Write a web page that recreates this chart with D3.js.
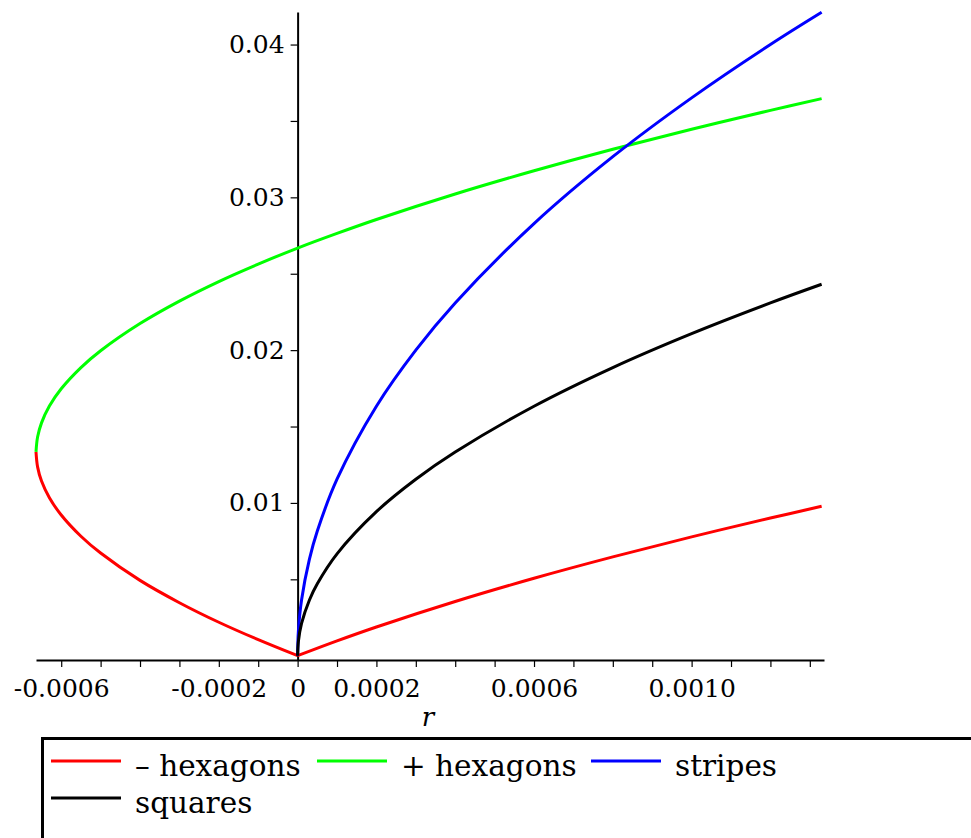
<!DOCTYPE html>
<html>
<head>
<meta charset="utf-8">
<script src="https://cdn.jsdelivr.net/npm/d3@7"></script>
<style>
  body { margin: 0; background: #fff; }
  svg { display: block; }
  .tick-label { font-family: "DejaVu Serif", serif; font-size: 25px; fill: #000; }
  .legend-text { font-family: "DejaVu Serif", serif; font-size: 29.5px; fill: #000; }
</style>
</head>
<body>
<div id="chart"></div>
<script>
// data: amplitude vs r
var hexMinusR = [0.00133, 0.0012, 0.001, 0.0008, 0.0006, 0.0004, 0.0002, 0.0001, 0,
    -0.0001, -0.0002, -0.0003, -0.0004, -0.0005, -0.00055, -0.0006, -0.00063, -0.00065, -0.00066, -0.000664];
var hexMinusA = [0.00978, 0.00901, 0.00778, 0.00647, 0.00507, 0.00355, 0.00188, 0.00097, 0,
    0.00105, 0.00219, 0.00347, 0.00493, 0.00672, 0.00782, 0.00921, 0.01034, 0.01143, 0.01236, 0.01334];

var hexPlusR = [-0.000664, -0.00066, -0.00065, -0.00063, -0.0006, -0.00055, -0.0005, -0.0004, -0.0003,
    -0.0002, -0.0001, 0, 0.0001, 0.0002, 0.0004, 0.0006, 0.0008, 0.001, 0.0012, 0.00133];
var hexPlusA = [0.01334, 0.01431, 0.01524, 0.01634, 0.01747, 0.01886, 0.01996, 0.02174, 0.02321,
    0.02449, 0.02563, 0.02668, 0.02764, 0.02855, 0.03022, 0.03174, 0.03315, 0.03446, 0.03569, 0.03646];

var stripesR = [0, 0.000002, 0.00001, 0.00003, 0.00005, 0.0001, 0.0002, 0.0003, 0.0004, 0.0006, 0.0008, 0.001, 0.0012, 0.00133];
var stripesA = [0, 0.00163, 0.00365, 0.00632, 0.00816, 0.01155, 0.01633, 0.02, 0.02309, 0.02828, 0.03266, 0.03651, 0.04, 0.04211];

var squaresR = [0, 0.000002, 0.00001, 0.00003, 0.00005, 0.0001, 0.0002, 0.0003, 0.0004, 0.0006, 0.0008, 0.001, 0.0012, 0.00133];
var squaresA = [0, 0.000943, 0.00211, 0.00365, 0.00471, 0.00667, 0.00943, 0.01155, 0.01333, 0.01633, 0.01886, 0.02108, 0.02309, 0.02431];

var seriesNames = ["\u2013 hexagons", "+ hexagons", "stripes", "squares"];
var seriesColors = ["#ff0000", "#00ff00", "#0000ff", "#000000"];

var xTicks = [-0.0006, -0.0005, -0.0004, -0.0003, -0.0002, -0.0001, 0, 0.0001, 0.0002, 0.0003,
    0.0004, 0.0005, 0.0006, 0.0007, 0.0008, 0.0009, 0.001, 0.0011, 0.0012, 0.0013];
var xLabels = {"-0.0006": "-0.0006", "-0.0002": "-0.0002", "0": "0", "0.0002": "0.0002", "0.0006": "0.0006", "0.001": "0.0010"};
var yTicks = [0.005, 0.01, 0.015, 0.02, 0.025, 0.03, 0.035, 0.04];
var yLabels = {"0.01": "0.01", "0.02": "0.02", "0.03": "0.03", "0.04": "0.04"};

var width = 971, height = 838;

var svg = d3.select("#chart").append("svg")
    .attr("width", width)
    .attr("height", height);

var x = d3.scaleLinear().domain([-0.000664, 0.001336]).range([36, 824]);
var y = d3.scaleLinear().domain([-0.00028, 0.04213]).range([660, 12]);

// x axis along the bottom of the plot
var xAxis = d3.axisBottom(x)
    .tickValues(xTicks)
    .tickSizeInner(7)
    .tickSizeOuter(0)
    .tickPadding(6)
    .tickFormat(function(d){ var k = String(+d.toFixed(4)); return xLabels[k] || ""; });

var gx = svg.append("g")
    .attr("transform", "translate(0," + y.range()[0] + ")")
    .call(xAxis);
gx.select(".domain").attr("stroke-width", 2);
gx.selectAll(".tick line").attr("stroke-width", 1.2);
gx.selectAll(".tick text").attr("class", "tick-label").attr("dy", "0.95em");

// y axis through r = 0
var yAxis = d3.axisLeft(y)
    .tickValues(yTicks)
    .tickSizeInner(7)
    .tickSizeOuter(0)
    .tickPadding(6)
    .tickFormat(function(d){ var k = String(+d.toFixed(3)); return yLabels[k] || ""; });

var gy = svg.append("g")
    .attr("transform", "translate(" + x(0) + ",0)")
    .call(yAxis);
gy.select(".domain").attr("stroke-width", 2);
gy.selectAll(".tick line").attr("stroke-width", 1.2);
gy.selectAll(".tick text").attr("class", "tick-label");

svg.append("text")
    .attr("x", 428)
    .attr("y", 726)
    .attr("text-anchor", "middle")
    .style("font-family", "'DejaVu Serif', serif")
    .style("font-style", "italic")
    .style("font-size", "26px")
    .text("r");

var line = d3.line()
    .x(function(d){ return x(d[0]); })
    .y(function(d){ return y(d[1]); })
    .curve(d3.curveCatmullRom.alpha(0.5));

var seriesR = [hexMinusR, hexPlusR, stripesR, squaresR];
var seriesA = [hexMinusA, hexPlusA, stripesA, squaresA];

function drawPath(pts, color) {
    svg.append("path")
        .attr("d", line(pts))
        .attr("fill", "none")
        .attr("stroke", color)
        .attr("stroke-width", 3)
        .attr("stroke-linejoin", "round");
}

seriesR.forEach(function(rs, i){
    var pts = rs.map(function(r, j){ return [r, seriesA[i][j]]; });
    if (i === 0) {
        // the lower hexagon branch has a corner at the origin
        drawPath(pts.filter(function(p){ return p[0] >= 0; }), seriesColors[i]);
        drawPath(pts.filter(function(p){ return p[0] <= 0; }), seriesColors[i]);
    } else {
        drawPath(pts, seriesColors[i]);
    }
});

// legend box, runs off the right and bottom edge
svg.append("rect")
    .attr("x", 42.5)
    .attr("y", 738.5)
    .attr("width", 960)
    .attr("height", 140)
    .attr("fill", "none")
    .attr("stroke", "#000")
    .attr("stroke-width", 3);

var legendPos = [[51, 761], [317, 761], [591, 761], [51, 798]];
seriesNames.forEach(function(name, i){
    var p = legendPos[i];
    svg.append("line")
        .attr("x1", p[0]).attr("x2", p[0] + 70)
        .attr("y1", p[1]).attr("y2", p[1])
        .attr("stroke", seriesColors[i])
        .attr("stroke-width", 3);
    svg.append("text")
        .attr("class", "legend-text")
        .attr("x", p[0] + 84)
        .attr("y", p[1] + 15)
        .text(name);
});
</script>
</body>
</html>
